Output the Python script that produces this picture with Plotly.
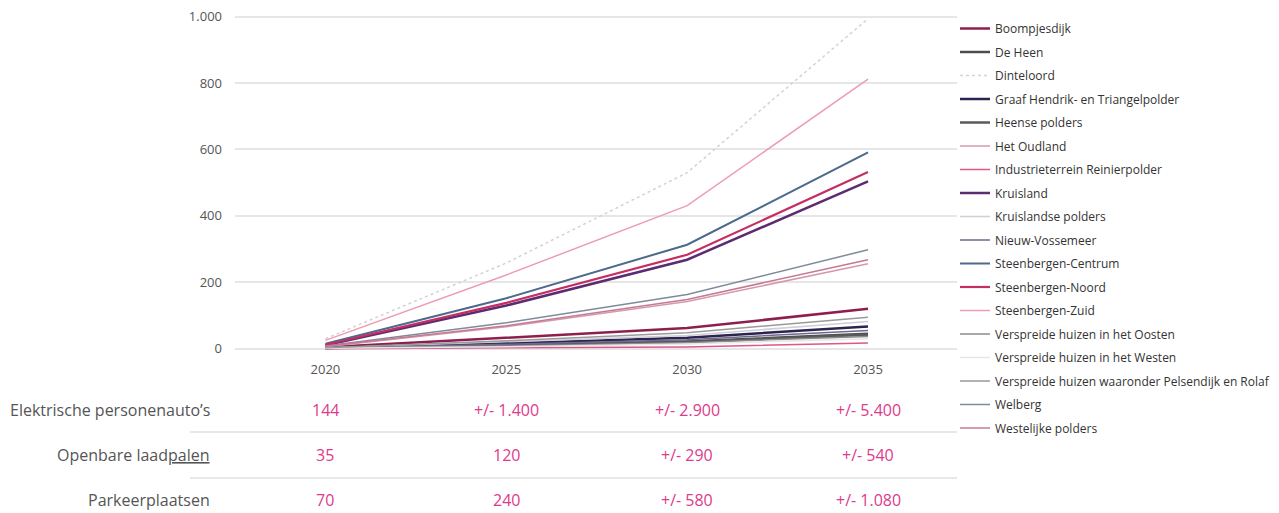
import plotly.graph_objects as go

years = [2020, 2025, 2030, 2035]

names = [
    "Boompjesdijk", "De Heen", "Dinteloord", "Graaf Hendrik- en Triangelpolder",
    "Heense polders", "Het Oudland", "Industrieterrein Reinierpolder", "Kruisland",
    "Kruislandse polders", "Nieuw-Vossemeer", "Steenbergen-Centrum", "Steenbergen-Noord",
    "Steenbergen-Zuid", "Verspreide huizen in het Oosten", "Verspreide huizen in het Westen",
    "Verspreide huizen waaronder Pelsendijk en Rolaf", "Welberg", "Westelijke polders",
]

boompjesdijk = [4, 32, 62, 120]
de_heen = [2, 10, 22, 45]
dinteloord = [30, 258, 530, 994]
graaf_hendrik = [3, 16, 33, 67]
heense_polders = [2, 9, 20, 42]
het_oudland = [6, 66, 142, 256]
industrieterrein = [0, 2, 5, 17]
kruisland = [10, 130, 268, 504]
kruislandse_polders = [2, 20, 40, 82]
nieuw_vossemeer = [2, 13, 27, 55]
sb_centrum = [15, 152, 313, 591]
sb_noord = [12, 138, 283, 532]
sb_zuid = [25, 222, 431, 812]
vh_oosten = [2, 8, 18, 37]
vh_westen = [1, 6, 14, 30]
vh_pelsendijk = [3, 24, 48, 95]
welberg = [8, 78, 163, 298]
westelijke_polders = [7, 69, 148, 268]

series = [boompjesdijk, de_heen, dinteloord, graaf_hendrik, heense_polders, het_oudland,
          industrieterrein, kruisland, kruislandse_polders, nieuw_vossemeer, sb_centrum,
          sb_noord, sb_zuid, vh_oosten, vh_westen, vh_pelsendijk, welberg, westelijke_polders]

colors = ["#8e1f4c", "#4d4d4d", "#d3d3d3", "#2d2350", "#5a5a5a", "#d39aae",
          "#e0558c", "#5c2b72", "#cfcfd8", "#6f6890", "#4b6a8c", "#c42e63",
          "#ec9db2", "#8c8c8c", "#e6e6e6", "#9a9a9a", "#7f8a9c", "#c67a92"]
widths = [2.5, 2.5, 1.5, 2.5, 2.5, 1.5, 1.5, 2.5, 1.5, 1.5, 2, 2.2,
          1.5, 1.5, 1.5, 1.5, 1.5, 1.5]
dashes = ["solid"] * 18
dashes[2] = "dot"

# table below the chart
row_labels = ["Elektrische personenauto’s", "Openbare laad<u>palen</u>", "Parkeerplaatsen"]
row_values = [
    ["144", "+/- 1.400", "+/- 2.900", "+/- 5.400"],
    ["35", "120", "+/- 290", "+/- 540"],
    ["70", "240", "+/- 580", "+/- 1.080"],
]

FONT = "Open Sans"
fig = go.Figure()
for i, (n, s) in enumerate(zip(names, series)):
    fig.add_trace(go.Scatter(
        x=years, y=s, name=n, mode="lines", legendgroup=f"g{i}",
        line=dict(color=colors[i], width=widths[i], dash=dashes[i]),
    ))

# plot area geometry (px)
L, R, T, B = 235, 957, 15, 352
H = B - T

row_py = [410, 455, 500]
for r, (lab, vals) in enumerate(zip(row_labels, row_values)):
    py = (B - row_py[r]) / H
    fig.add_annotation(x=(212 - L) / (R - L), y=py, xref="paper", yref="paper",
                       text=lab, showarrow=False, xanchor="right", yanchor="middle",
                       font=dict(family=FONT, size=16, color="#555555"))
    for c, v in enumerate(vals):
        fig.add_annotation(x=years[c], y=py, xref="x", yref="paper",
                           text=v, showarrow=False, xanchor="center", yanchor="middle",
                           font=dict(family=FONT, size=16, color="#de3a8c"))

for py in [432, 478]:
    yy = (B - py) / H
    fig.add_shape(type="line", xref="paper", yref="paper",
                  x0=(190 - L) / (R - L), x1=1.0, y0=yy, y1=yy,
                  line=dict(color="#e0e0e0", width=1.5))

fig.update_layout(
    width=1279, height=513,
    margin=dict(l=L, r=1279 - R, t=T, b=513 - B, autoexpand=False),
    paper_bgcolor="white", plot_bgcolor="white",
    separators=",.",
    font=dict(family=FONT, size=12, color="#555555"),
    showlegend=True,
    legend=dict(x=(955 - L) / (R - L), y=1 + 1 / H, xanchor="left", yanchor="top",
                font=dict(family=FONT, size=12, color="#333333"),
                tracegroupgap=4.5, traceorder="grouped", itemwidth=30,
                maxheight=505, bgcolor="rgba(0,0,0,0)"),
    xaxis=dict(range=[2017.5, 2037.46], tickvals=years, showgrid=False,
               zeroline=False, showline=False, ticks="", ticklabelstandoff=8,
               tickfont=dict(family=FONT, size=13, color="#555555")),
    yaxis=dict(range=[-10, 1005], tickvals=[0, 200, 400, 600, 800, 1000],
               separatethousands=True, showgrid=True, gridcolor="#e6e6e6",
               gridwidth=1.5, zeroline=False, showline=False, ticks="",
               ticklabelstandoff=12,
               tickfont=dict(family=FONT, size=13, color="#555555")),
)

fig.write_html("out.html")
